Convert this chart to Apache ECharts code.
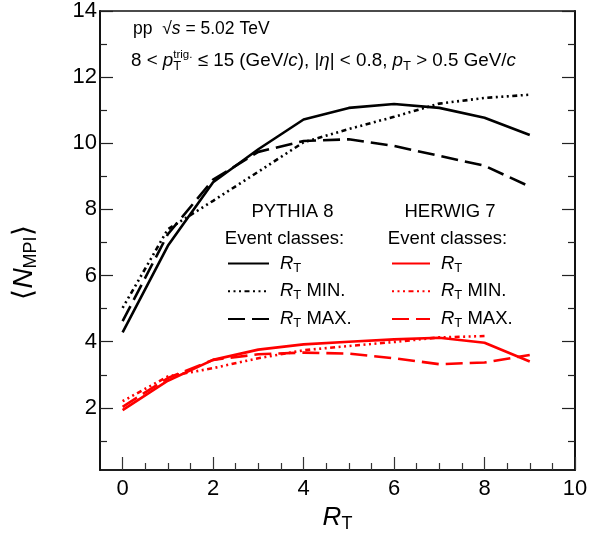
<!DOCTYPE html>
<html>
<head>
<meta charset="utf-8">
<script src="https://cdn.jsdelivr.net/npm/echarts@6/dist/echarts.min.js"></script>
<style>
  html, body { margin: 0; padding: 0; background: #fff; }
  #chart { width: 608px; height: 543px; }
</style>
</head>
<body>
<div id="chart"></div>
<script>
// R_T bins
var rtBins = [0, 1, 2, 3, 4, 5, 6, 7, 8, 9];
var rtBinsHerwigMin = [0, 1, 2, 3, 4, 5, 6, 7, 8];

// PYTHIA 8
var pythiaRt = [4.28, 6.9, 8.82, 9.82, 10.72, 11.07, 11.19, 11.07, 10.77, 10.25];
var pythiaMin = [5.02, 7.4, 8.26, 9.14, 10.03, 10.43, 10.8, 11.2, 11.37, 11.47];
var pythiaMax = [4.62, 7.25, 8.9, 9.74, 10.07, 10.12, 9.92, 9.62, 9.32, 8.69];

// HERWIG 7
var herwigRt = [1.93, 2.82, 3.45, 3.76, 3.92, 4.0, 4.07, 4.12, 3.97, 3.4];
var herwigMin = [2.2, 2.95, 3.2, 3.5, 3.74, 3.87, 3.99, 4.13, 4.17];
var herwigMax = [2.03, 2.9, 3.45, 3.62, 3.67, 3.64, 3.5, 3.32, 3.37, 3.6];

// ticks
var xMajor = [0, 2, 4, 6, 8, 10];
var xMinor = [0.5, 1, 1.5, 2.5, 3, 3.5, 4.5, 5, 5.5, 6.5, 7, 7.5, 8.5, 9, 9.5];
var yMajor = [2, 4, 6, 8, 10, 12, 14];
var yMinor = [1, 3, 5, 7, 9, 11, 13];

var FONT = "Liberation Sans";
var RED = "#ff0000";
var dotted = [2, 3.5, 2, 3.5, 2, 3.5, 5, 3.5];
var dashed = [17, 7];

function pts(xs, ys) {
	return xs.map(function (x, i) { return [x, ys[i]]; });
}

function line(name, xs, ys, color, type) {
	return {
		name: name,
		type: "line",
		data: pts(xs, ys),
		symbol: "none",
		smooth: false,
		silent: true,
		lineStyle: { color: color, width: 2.6, type: type, cap: "butt" },
		itemStyle: { color: color }
	};
}

function xAx(ticks, len, labels) {
	return {
		type: "value", position: "bottom", min: -0.5, max: 10,
		axisLine: { show: labels, lineStyle: { color: "#111", width: 1.5 } },
		axisTick: { show: true, inside: true, length: len, customValues: ticks, lineStyle: { color: "#333", width: 1.2 } },
		axisLabel: labels ? { show: true, customValues: xMajor, margin: 8, color: "#000", fontFamily: FONT, fontSize: 22 } : { show: false },
		splitLine: { show: false }
	};
}

function yAx(pos, ticks, len, labels) {
	return {
		type: "value", position: pos, min: 0.12, max: 14,
		axisLine: { show: true, onZero: false, lineStyle: { color: "#111", width: 1.5 } },
		axisTick: { show: true, inside: true, length: len, customValues: ticks, lineStyle: { color: "#222", width: 1.2 } },
		axisLabel: labels ? { show: true, customValues: yMajor, margin: 3, color: "#000", fontFamily: FONT, fontSize: 22 } : { show: false },
		splitLine: { show: false }
	};
}

var legendNames = {
	"P8 RT": "", "P8 RT MIN": " MIN.", "P8 RT MAX": " MAX.",
	"H7 RT": "", "H7 RT MIN": " MIN.", "H7 RT MAX": " MAX."
};
var legendRich = {
	g: { width: 6 },
	i: { fontStyle: "italic", fontSize: 18.5, fontFamily: FONT, lineHeight: 20 },
	s: { fontSize: 13, fontFamily: FONT, padding: [9, 0, 0, 0], lineHeight: 20 },
	t: { fontSize: 18.5, fontFamily: FONT, lineHeight: 20 }
};
function legendFmt(name) {
	return "{g|}{i|R}{s|T}{t|" + legendNames[name] + "}";
}
function legend(left, names, w) {
	return {
		orient: "vertical", left: left, top: 252.5, padding: 0,
		itemWidth: w, itemHeight: 14, itemGap: 5.7,
		selectedMode: false, data: names, formatter: legendFmt,
		itemStyle: { opacity: 0 },
		textStyle: { color: "#000", fontSize: 18.5, fontFamily: FONT, lineHeight: 20, rich: legendRich }
	};
}

var chart = echarts.init(document.getElementById("chart"), null, { renderer: "canvas" });

var option = {
	animation: false,
	backgroundColor: "#fff",
	grid: { left: 100, right: 33, top: 8, bottom: 73, show: true, borderColor: "#111", borderWidth: 1.5, containLabel: false },
	xAxis: [
		Object.assign(xAx(xMajor, 13, true), {
			name: "{i|R}{s|T}", nameLocation: "middle", nameGap: 33,
			nameTextStyle: {
				color: "#000", fontFamily: FONT, fontSize: 26,
				rich: {
					i: { fontStyle: "italic", fontSize: 26, fontFamily: FONT },
					s: { fontSize: 18, fontFamily: FONT, padding: [12, 0, 0, 0] }
				}
			}
		}),
		xAx(xMinor, 7, false)
	],
	yAxis: [
		Object.assign(yAx("left", yMajor, 13, true), {
			name: "⟨{i|N}{s|MPI}⟩", nameLocation: "middle", nameGap: 60, nameRotate: 90,
			nameTextStyle: {
				color: "#000", fontFamily: FONT, fontSize: 28, padding: [0, 44, 0, 0],
				rich: {
					i: { fontStyle: "italic", fontSize: 28, fontFamily: FONT },
					s: { fontSize: 18, fontFamily: FONT, padding: [13, 0, 0, 0] }
				}
			}
		}),
		yAx("left", yMinor, 7, false),
		yAx("right", yMajor, 13, false),
		yAx("right", yMinor, 7, false)
	],
	legend: [
		legend(227, ["P8 RT", "P8 RT MIN", "P8 RT MAX"], 41),
		legend(391, ["H7 RT", "H7 RT MIN", "H7 RT MAX"], 38)
	],
	graphic: [
		{
			type: "text", left: 133, top: 20,
			style: {
				text: "pp  √{i|s} = 5.02 TeV", fill: "#000", font: "17.5px " + FONT,
				rich: { i: { fontStyle: "italic", fontSize: 17.5, fontFamily: FONT } }
			}
		},
		{
			type: "text", left: 131, top: 49,
			style: {
				text: "8 < {i|p}{st|T}{sp|trig.} ≤ 15 (GeV/{i|c}), |{i|η}| < 0.8, {i|p}{s|T} > 0.5 GeV/{i|c}",
				fill: "#000", font: "18.8px " + FONT,
				rich: {
					i: { fontStyle: "italic", fontSize: 18.8, fontFamily: FONT },
					s: { fontSize: 13, fontFamily: FONT, padding: [11, 0, 0, 0] },
					st: { fontSize: 13, fontFamily: FONT, padding: [11, 0, 0, 0], width: 0 },
					sp: { fontSize: 11.5, fontFamily: FONT, padding: [0, 0, 11, 0] }
				}
			}
		},
		{ type: "text", x: 292.5, y: 212, style: { text: "PYTHIA 8", fill: "#000", font: "18.5px " + FONT, align: "center", verticalAlign: "middle" } },
		{ type: "text", x: 284.5, y: 238.5, style: { text: "Event classes:", fill: "#000", font: "18.5px " + FONT, align: "center", verticalAlign: "middle" } },
		{ type: "text", x: 450, y: 212, style: { text: "HERWIG 7", fill: "#000", font: "18.5px " + FONT, align: "center", verticalAlign: "middle" } },
		{ type: "text", x: 447.5, y: 238.5, style: { text: "Event classes:", fill: "#000", font: "18.5px " + FONT, align: "center", verticalAlign: "middle" } }
	],
	series: [
		line("P8 RT", rtBins, pythiaRt, "#000", "solid"),
		line("P8 RT MIN", rtBins, pythiaMin, "#000", dotted),
		line("P8 RT MAX", rtBins, pythiaMax, "#000", dashed),
		line("H7 RT", rtBins, herwigRt, RED, "solid"),
		line("H7 RT MIN", rtBinsHerwigMin, herwigMin, RED, dotted),
		line("H7 RT MAX", rtBins, herwigMax, RED, dashed)
	]
};

chart.setOption(option);
</script>
</body>
</html>
